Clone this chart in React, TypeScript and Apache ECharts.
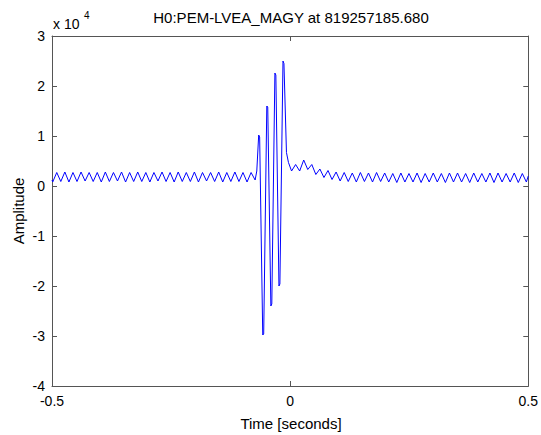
import React, { useEffect, useRef } from "react";
import * as echarts from "echarts";

const TITLE = "H0:PEM-LVEA_MAGY at 819257185.680";
const X_LABEL = "Time [seconds]";
const Y_LABEL = "Amplitude";
const X_TICKS = [-0.5, 0, 0.5];
const Y_TICKS = [-4, -3, -2, -1, 0, 1, 2, 3];

// time (s) and amplitude (x 10^4)
const times = [
  -0.5, -0.4985, -0.49, -0.4815, -0.473, -0.4645, -0.456, -0.4475, -0.439, -0.4305, -0.422,
  -0.4135, -0.405, -0.3965, -0.388, -0.3795, -0.371, -0.3625, -0.354, -0.3455, -0.337,
  -0.3285, -0.32, -0.3115, -0.303, -0.2945, -0.286, -0.2775, -0.269, -0.2605, -0.252,
  -0.2435, -0.235, -0.2265, -0.218, -0.2095, -0.201, -0.1925, -0.184, -0.1755, -0.167,
  -0.1585, -0.15, -0.1415, -0.133, -0.1245, -0.116, -0.1075, -0.099, -0.0905, -0.082,
  -0.0735, -0.07, -0.066, -0.064, -0.0575, -0.0555, -0.049, -0.047, -0.0405, -0.0385,
  -0.032, -0.03, -0.0235, -0.0215, -0.015, -0.013, -0.0077,
  -0.0035, 0.003, 0.0115, 0.02, 0.0285, 0.037, 0.0455, 0.054, 0.0625, 0.071, 0.0795,
  0.088, 0.0965, 0.105, 0.1135, 0.122, 0.1305, 0.139, 0.1475, 0.156, 0.1645, 0.173,
  0.1815, 0.19, 0.1985, 0.207, 0.2155, 0.224, 0.2325, 0.241, 0.2495, 0.258, 0.2665,
  0.275, 0.2835, 0.292, 0.3005, 0.309, 0.3175, 0.326, 0.3345, 0.343, 0.3515, 0.36,
  0.3685, 0.377, 0.3855, 0.394, 0.4025, 0.411, 0.4195, 0.428, 0.4365, 0.445, 0.4535,
  0.462, 0.4705, 0.479, 0.4875, 0.496, 0.5,
];

const amplitude = [
  0.12, 0.08, 0.27, 0.09, 0.28, 0.08, 0.27, 0.09, 0.28, 0.1, 0.27,
  0.09, 0.27, 0.08, 0.28, 0.09, 0.27, 0.1, 0.28, 0.08, 0.27,
  0.09, 0.28, 0.09, 0.27, 0.08, 0.27, 0.1, 0.28, 0.09, 0.27,
  0.08, 0.28, 0.09, 0.27, 0.09, 0.28, 0.08, 0.27, 0.1, 0.27,
  0.09, 0.28, 0.08, 0.27, 0.09, 0.28, 0.09, 0.27, 0.08, 0.27,
  0.12, 0.3, 1.02, 0.98, -2.98, -2.96, 1.6, 1.58, -2.4, -2.36,
  2.26, 2.22, -2.0, -1.96, 2.5, 2.45, 0.67,
  0.47, 0.3, 0.43, 0.3, 0.52, 0.33, 0.43, 0.23, 0.34, 0.17, 0.31,
  0.13, 0.28, 0.1, 0.27, 0.09, 0.26, 0.08, 0.27, 0.09, 0.26, 0.08,
  0.27, 0.09, 0.26, 0.08, 0.25, 0.07, 0.26, 0.08, 0.25, 0.08, 0.26,
  0.07, 0.25, 0.08, 0.26, 0.08, 0.25, 0.07, 0.26, 0.08, 0.26, 0.08,
  0.25, 0.07, 0.26, 0.08, 0.25, 0.08, 0.26, 0.07, 0.26, 0.08, 0.25,
  0.08, 0.26, 0.07, 0.25, 0.08, 0.2,
];

const FONT = "'Liberation Sans', Arial, Helvetica, sans-serif";
const AXIS_COLOR = "#555";

export default function App() {
  const ref = useRef<HTMLDivElement>(null);

  useEffect(() => {
    if (!ref.current) return;
    const chart = echarts.init(ref.current, undefined, { renderer: "svg" });
    const data = times.map((t, i) => [t, amplitude[i]]);
    const xBase = {
      type: "value" as const,
      min: X_TICKS[0],
      max: X_TICKS[X_TICKS.length - 1],
      interval: 0.5,
      splitLine: { show: false },
      axisLine: { show: true, onZero: false, lineStyle: { color: AXIS_COLOR, width: 1 } },
      axisTick: { show: true, inside: true, length: 5, lineStyle: { color: AXIS_COLOR } },
    };
    const yBase = {
      type: "value" as const,
      min: Y_TICKS[0],
      max: Y_TICKS[Y_TICKS.length - 1],
      interval: 1,
      splitLine: { show: false },
      axisLine: { show: true, onZero: false, lineStyle: { color: AXIS_COLOR, width: 1 } },
      axisTick: { show: true, inside: true, length: 5, lineStyle: { color: AXIS_COLOR } },
    };
    chart.setOption({
      animation: false,
      backgroundColor: "#fff",
      grid: { left: 52, right: 11, top: 36, bottom: 49, containLabel: false },
      xAxis: [
        {
          ...xBase,
          position: "bottom",
          axisLabel: {
            show: true,
            color: "#000",
            fontSize: 14,
            fontFamily: FONT,
            margin: 8,
            formatter: (v: number) => String(v),
          },
        },
        { ...xBase, position: "top", axisLabel: { show: false } },
      ],
      yAxis: [
        {
          ...yBase,
          position: "left",
          axisLabel: {
            show: true,
            color: "#000",
            fontSize: 14,
            fontFamily: FONT,
            margin: 7,
            formatter: (v: number) => String(v),
          },
        },
        { ...yBase, position: "right", axisLabel: { show: false } },
      ],
      series: [
        {
          type: "line",
          data,
          xAxisIndex: 0,
          yAxisIndex: 0,
          showSymbol: false,
          symbol: "none",
          lineStyle: { color: "#0000ff", width: 1 },
          silent: true,
        },
      ],
      graphic: [
        {
          type: "text",
          x: 291,
          y: 17,
          style: {
            text: TITLE,
            fill: "#000",
            font: `15px ${FONT}`,
            textAlign: "center",
            textVerticalAlign: "middle",
          },
        },
        {
          type: "text",
          x: 53,
          y: 24,
          style: {
            text: "x 10",
            fill: "#000",
            font: `14px ${FONT}`,
            textAlign: "left",
            textVerticalAlign: "middle",
          },
        },
        {
          type: "text",
          x: 84,
          y: 15,
          style: {
            text: "4",
            fill: "#000",
            font: `10px ${FONT}`,
            textAlign: "left",
            textVerticalAlign: "middle",
          },
        },
        {
          type: "text",
          x: 18,
          y: 211,
          rotation: Math.PI / 2,
          style: {
            text: Y_LABEL,
            fill: "#000",
            font: `15px ${FONT}`,
            textAlign: "center",
            textVerticalAlign: "middle",
          },
        },
        {
          type: "text",
          x: 291,
          y: 423,
          style: {
            text: X_LABEL,
            fill: "#000",
            font: `15px ${FONT}`,
            textAlign: "center",
            textVerticalAlign: "middle",
          },
        },
      ],
    });
    return () => chart.dispose();
  }, []);

  return (
    <div
      ref={ref}
      style={{ position: "absolute", left: 0, top: 0, width: 541, height: 435 }}
    />
  );
}
